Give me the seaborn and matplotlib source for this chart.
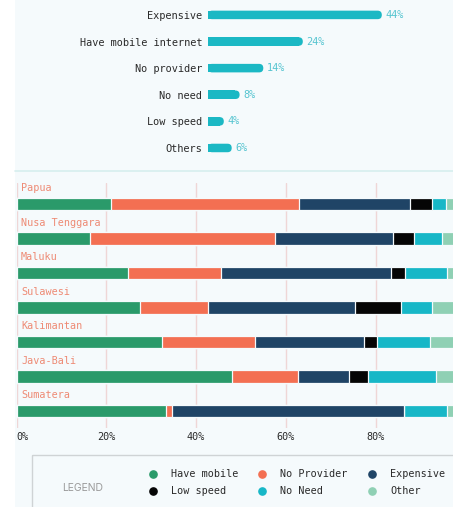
import numpy as np
import pandas as pd
import matplotlib
matplotlib.use("Agg")
import matplotlib.pyplot as plt
import seaborn as sns
from matplotlib.patches import Rectangle, FancyBboxPatch

# ---------------- data ----------------
reasons = ["Expensive", "Have mobile internet", "No provider", "No need", "Low speed", "Others"]
reason_pct = [44, 24, 14, 8, 4, 6]

regions = ["Papua", "Nusa Tenggara", "Maluku", "Sulawesi", "Kalimantan", "Java-Bali", "Sumatera"]
categories = ["Have mobile", "No Provider", "Expensive", "Low speed", "No Need", "Other"]
have_mobile = [21.0, 16.4, 24.8, 27.6, 32.5, 48.1, 33.2]
no_provider = [41.9, 41.2, 20.7, 15.1, 20.7, 14.5, 1.4]
expensive   = [24.7, 26.2, 37.8, 32.8, 24.2, 11.5, 51.6]
low_speed   = [5.0, 4.8, 3.2, 10.1, 3.0, 4.2, 0.0]
no_need     = [3.1, 6.1, 9.3, 7.0, 11.7, 15.1, 9.6]
other       = [4.3, 5.3, 4.2, 7.4, 7.9, 6.6, 4.2]
xtick_vals = [0, 20, 40, 60, 80, 100]
xtick_labels = ["0%", "20%", "40%", "60%", "80%", "100%"]

cat_colors = ["#2a9a6a", "#f36f52", "#1f4466", "#050505", "#17b7c7", "#8fd0b4"]
teal = "#1bb8c4"
teal_text = "#55c4d0"
salmon = "#ee8a74"
bg = "#f5fafc"
W, H = 453, 507
MONO = "DejaVu Sans Mono"

sns.set_theme(style="white")
plt.rcParams["font.family"] = ["DejaVu Sans"]

fig = plt.figure(figsize=(W / 100, H / 100), dpi=100, facecolor="white")


def fax(l, t, r, b, **kw):
    return fig.add_axes([l / W, 1 - b / H, (r - l) / W, (b - t) / H], **kw)


# background / decoration axes (pixel coordinates)
axb = fig.add_axes([0, 0, 1, 1], zorder=-10)
axb.set_xlim(0, W)
axb.set_ylim(H, 0)
axb.axis("off")
axb.add_patch(Rectangle((15, 0), W - 15, H, facecolor=bg, edgecolor="none"))
axb.plot([15, W], [170.5, 170.5], color="#d6eeee", lw=1.2)

# ---------------- top chart ----------------
ax1 = fax(208, 0, W, 165)
ax1.set_facecolor("none")
sns.barplot(x=reason_pct, y=reasons, orient="h", color=teal, width=0.32,
            ax=ax1, saturation=1, linewidth=0)
px_x, px_y = 3.95, 26.6
radius = 4.2 / px_x  # in x data units
for p in list(ax1.patches):
    x0, y0, w, h = p.get_x(), p.get_y(), p.get_width(), p.get_height()
    p.set_width(max(w - radius, 0))
    ax1.add_patch(FancyBboxPatch((x0, y0), w, h,
                                 boxstyle=f"round,pad=0,rounding_size={radius}",
                                 mutation_aspect=px_x / px_y,
                                 facecolor=teal, edgecolor="none", zorder=2))
ax1.set_xlim(0, (W - 208) / px_x)
ax1.set_ylim(5.64, -0.56)
for i, v in enumerate(reason_pct):
    ax1.text(v + 0.9, i, f"{v}%", color=teal_text, fontsize=7.4, family=MONO,
             va="center", ha="left")
ax1.tick_params(axis="y", length=0, pad=4.3, labelsize=7.4, labelcolor="#2a2a2a")
for lab in ax1.get_yticklabels():
    lab.set_family(MONO)
ax1.set_xticks([])
ax1.set_xlabel("")
ax1.set_ylabel("")
sns.despine(ax=ax1, left=True, bottom=True)

# ---------------- stacked chart ----------------
ax2 = fax(16.5, 183, 16.5 + 449, 428)
ax2.set_facecolor("none")
vals = np.array([have_mobile, no_provider, expensive, low_speed, no_need, other]).T
cum = np.cumsum(vals, axis=1)
df = pd.DataFrame(cum, columns=categories)
df["region"] = regions
for k in reversed(range(len(categories))):
    sns.barplot(data=df, x=categories[k], y="region", orient="h",
                color=cat_colors[k], saturation=1, width=0.36,
                edgecolor=bg, linewidth=0.9, ax=ax2, zorder=3)
ax2.set_xlim(0, 100)
ax2.set_ylim(6.49, -0.61)
for i, r in enumerate(regions):
    ax2.text(1.0, i - 0.46, r, color=salmon, fontsize=7.3, family=MONO,
             va="center", ha="left")
ax2.set_xticks(xtick_vals)
ax2.set_xticklabels(xtick_labels, family=MONO, fontsize=7.3, color="#2a2a2a")
ax2.get_xticklabels()[0].set_ha("left")
ax2.tick_params(axis="x", length=0, pad=3)
ax2.set_yticks([])
ax2.set_xlabel("")
ax2.set_ylabel("")
ax2.grid(axis="x", color="#efd6d6", lw=1.0, zorder=0)
ax2.grid(axis="y", visible=False)
sns.despine(ax=ax2, left=True, bottom=True)

# ---------------- legend ----------------
axb.add_patch(Rectangle((32, 455), 480, 80, facecolor="none", edgecolor="#cfd3d5", lw=1.0))
axb.text(83, 488, "LEGEND", color="#9a9a9a", fontsize=7.5, family="Inter",
         ha="center", va="center")
leg_x = [153, 262, 372]
leg_y = [474, 491]
for idx, (name, col) in enumerate(zip(categories, cat_colors)):
    rr, cc = divmod(idx, 3)
    axb.plot(leg_x[cc], leg_y[rr], "o", ms=5.2, color=col, mec=col)
    axb.text(leg_x[cc] + 18, leg_y[rr], name, color="#2a2a2a", fontsize=7.3,
             family=MONO, ha="left", va="center")

fig.savefig("out.png", dpi=100, facecolor="white")
